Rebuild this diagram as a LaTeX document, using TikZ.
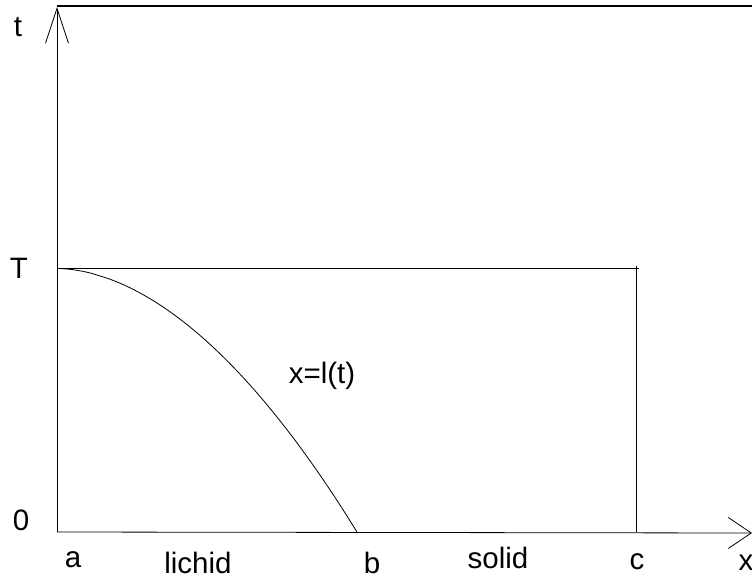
\documentclass[tikz,border=0pt]{standalone}
\usepackage{fontspec}
\setmainfont{Liberation Sans}
\usetikzlibrary{arrows.meta}

\begin{document}
\begin{tikzpicture}[x=1pt, y=-1pt,
  lbl/.style={font=\fontsize{29.5}{30}\selectfont, inner sep=0pt, anchor=base},
  axis/.style={line width=0.8pt}]
\useasboundingbox (0,0) rectangle (752,578);
% Key points
\coordinate (O) at (57,532);
\coordinate (ttip) at (57,7);
\coordinate (xtip) at (752,533);
\coordinate (topL) at (57,6);
\coordinate (topR) at (752,6);
\coordinate (Tl) at (57,268.5);
\coordinate (Tr) at (639,268.5);
\coordinate (ctop) at (636,266);
\coordinate (cbot) at (636,532);
% Axes
\draw[axis, -{Straight Barb[length=35pt, width=23pt]}] (O) -- (ttip);
\draw[axis, -{Straight Barb[length=23pt, width=31pt]}] (O) -- (xtip);
\draw[line width=1.5pt] (topL) -- (topR);
% Domain boundary
\draw[axis] (Tl) -- (Tr);
\draw[axis] (ctop) -- (cbot);
% Free boundary x=l(t)
\draw[axis, domain=0.001:1, samples=60] plot ({57+300*\x}, {268.5+263.5*\x^1.85});
% Labels
\node[lbl] (tlab) at (18,37) {t};
\node[lbl] (Tlab) at (19,278) {T};
\node[lbl] (zero) at (21,530) {0};
\node[lbl] (alab) at (73,567) {a};
\node[lbl] (liq) at (198,573) {lichid};
\node[lbl] (blab) at (372,573) {b};
\node[lbl] (sol) at (498,568) {solid};
\node[lbl] (clab) at (637,569) {c};
\node[lbl] (xlab) at (746,570) {x};
\node[lbl] (curve) at (322,383) {x=l(t)};
\end{tikzpicture}
\end{document}
